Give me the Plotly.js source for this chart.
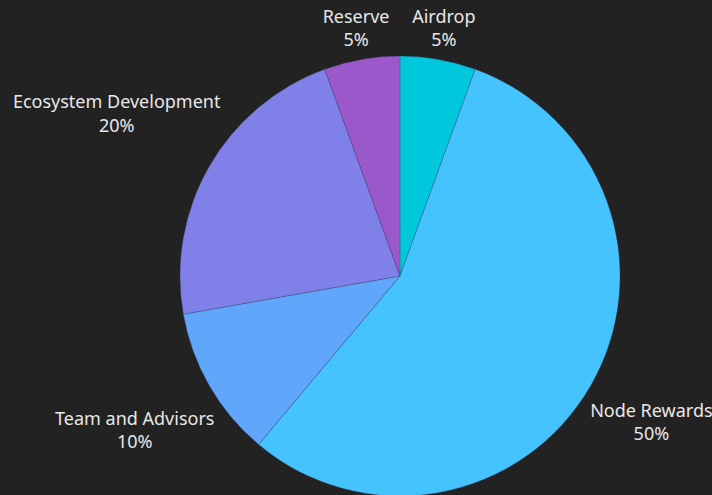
<!DOCTYPE html>
<html>
<head>
<meta charset="utf-8">
<script src="https://cdn.plot.ly/plotly-3.0.1.min.js"></script>
<style>
html,body{margin:0;padding:0;background:#222222;overflow:hidden;}
#chart{width:712px;height:520px;}
</style>
</head>
<body>
<div id="chart"></div>
<script>
const categories = ["Airdrop", "Node Rewards", "Team and Advisors", "Ecosystem Development", "Reserve"];
const allocation = [5, 50, 10, 20, 5];
const sliceColors = ["#00C8DC", "#45C3FF", "#60A6FA", "#7F80E8", "#9A58CA"];

const FONT = "Noto Sans";
const FONT_SIZE = 18;

// figure geometry (pixels)
const W = 712, H = 520;
const CX = 400, CY = 276, R = 220;
const LABEL_GAP = 7, LABEL_H = 41, TEXT_DY = 3;

// label texts
const labelTexts = categories.map((c, i) => c + "<br>" + allocation[i] + "%");

// mid angle of each slice (radians, clockwise from 12 o'clock)
const total = allocation.reduce((a, b) => a + b, 0);
let cum = 0;
const midAngles = allocation.map(v => { const m = (cum + v / 2) / total * 2 * Math.PI; cum += v; return m; });

// label box centre placed along the mid-angle ray so that the box just clears the pie
const ctx = document.createElement("canvas").getContext("2d");
ctx.font = FONT_SIZE + "px '" + FONT + "'";
const labelR = categories.map((c, i) => {
  const w = Math.max(ctx.measureText(c).width, ctx.measureText(allocation[i] + "%").width);
  const a = midAngles[i];
  const d = (w / 2) * Math.abs(Math.sin(a)) + (LABEL_H / 2) * Math.abs(Math.cos(a)) + LABEL_GAP;
  return 1 + d / R;
});
const labelX = midAngles.map((a, i) => labelR[i] * Math.sin(a));
const labelY = midAngles.map((a, i) => labelR[i] * Math.cos(a) - TEXT_DY / R);

const data = [{
  type: "pie",
  labels: categories,
  values: allocation,
  sort: false,
  direction: "clockwise",
  rotation: 0,
  textinfo: "none",
  hoverinfo: "label+value",
  domain: {x: [(CX - R) / W, (CX + R) / W], y: [(H - CY - R) / H, (H - CY + R) / H]},
  marker: {colors: sliceColors, line: {color: "rgba(60,60,100,0.5)", width: 0.6}}
}, {
  type: "scatter",
  mode: "text",
  x: labelX,
  y: labelY,
  text: labelTexts,
  textposition: "middle center",
  textfont: {color: "#E8E8E8", size: FONT_SIZE, family: FONT + ", sans-serif"},
  cliponaxis: false,
  hoverinfo: "skip",
  showlegend: false
}];

const layout = {
  width: W,
  height: H,
  paper_bgcolor: "#222222",
  plot_bgcolor: "rgba(0,0,0,0)",
  showlegend: false,
  margin: {l: 0, r: 0, t: 0, b: 0, pad: 0},
  font: {family: FONT + ", sans-serif", color: "#E8E8E8", size: FONT_SIZE},
  xaxis: {visible: false, range: [-CX / R, (W - CX) / R], fixedrange: true},
  yaxis: {visible: false, range: [-(H - CY) / R, CY / R], fixedrange: true}
};

Plotly.newPlot("chart", data, layout, {displayModeBar: false, staticPlot: true});
</script>
</body>
</html>
